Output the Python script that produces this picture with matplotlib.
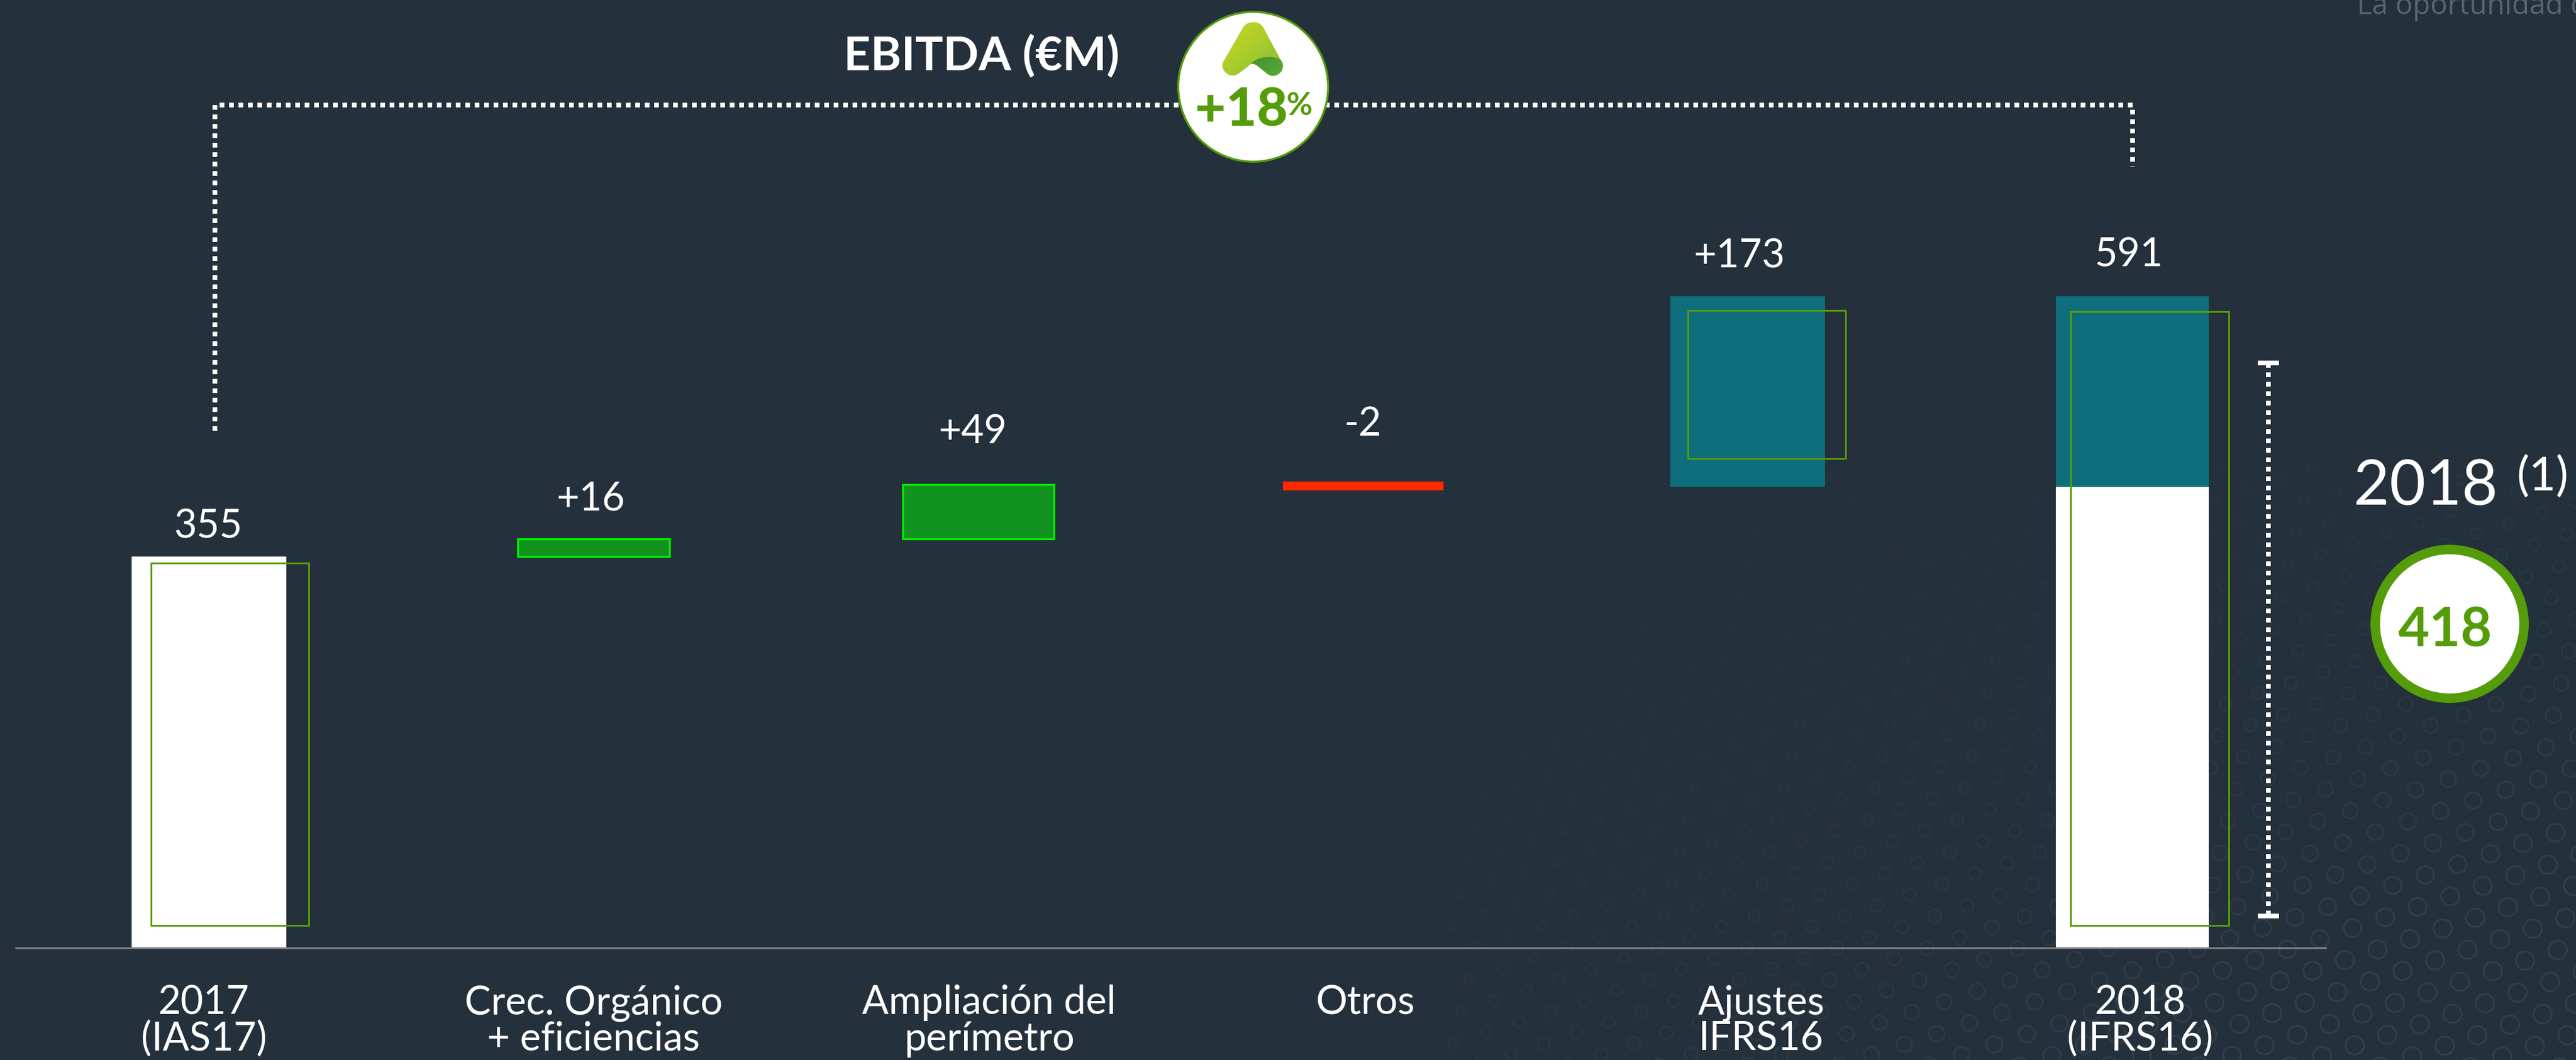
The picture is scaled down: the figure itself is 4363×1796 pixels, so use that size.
import numpy as np
import matplotlib
matplotlib.use("Agg")
import matplotlib.pyplot as plt
from matplotlib.patches import Ellipse, PathPatch
from matplotlib.path import Path
from matplotlib.colors import LinearSegmentedColormap

# ---------- data ----------
categories = ["2017\n(IAS17)", "Crec. Orgánico\n+ eficiencias", "Ampliación del\nperímetro",
              "Otros", "Ajustes\nIFRS16", "2018\n(IFRS16)"]
value_labels = ["355", "+16", "+49", "-2", "+173", "591"]
bar_positions = [0, 1, 2, 3, 4, 5, 5]
bar_bottoms = [0, 355, 371, 420, 418, 0, 418]
bar_heights = [355, 16, 49, -2, 173, 418, 173]
title = "EBITDA (€M)"
growth_label = "+18"
year_label = "2018"
note_label = "(1)"
ifrs_free_value = "418"
corner_text = "La oportunidad de C"

# outline series (thin green frames)
outline_positions = [0.0545, 4.05, 5.045]
outline_low = [20.3, 444, 20.3]
outline_high = [349, 578, 577]

# ---------- styles / layout ----------
W, H = 4363, 1796
BG = "#24303B"
WHITE = "#FFFFFF"
TEAL = "#0E6E7B"
GFILL = "#12921E"
GEDGE = "#00F000"
RED = "#FF2A00"
OLIVE = "#559C0A"
bar_widths = [0.402, 0.395, 0.393, 0.4005, 0.403, 0.398, 0.398]
bar_faces = [WHITE, GFILL, GFILL, RED, TEAL, WHITE, TEAL]
bar_edges = ["none", GEDGE, GEDGE, RED, "none", "none", "none"]
bar_lws = [0, 2.4, 2.4, 8, 0, 0, 0]
label_tick_x = [-0.0138, 1.0, 2.028, 3.007, 4.035, 5.021]
label_x = [-0.002, 0.992, 1.986, 3.0, 3.978, 4.99]
label_gap_px = [31, 48, 70, 83, 49, 51]
label_tops = [355, 371, 420, 420, 591, 591]
PX_PER_UNIT = 1.868
BASE_PX = 1606
STEP = 651.5
X0 = 354
FS_LABEL = 48

plt.rcParams["font.family"] = ["Lato", "DejaVu Sans"]
fig = plt.figure(figsize=(W / 100, H / 100), dpi=100, facecolor=BG)


def px_line(px):
    return px * 72 / 100


# decorative pixel-space overlay behind the chart: faint ring texture
bg = fig.add_axes([0, 0, 1, 1], zorder=0)
bg.set_xlim(0, W)
bg.set_ylim(H, 0)
bg.axis("off")
bg.set_facecolor(BG)
ii, jj = np.meshgrid(np.arange(-50, 60), np.arange(-50, 60))
ang = np.deg2rad(-18)
sp = 58
lx = 3900 + sp * (ii + 0.5 * (jj % 2)) * np.cos(ang) - sp * 0.82 * jj * np.sin(ang)
ly = 1500 + sp * (ii + 0.5 * (jj % 2)) * np.sin(ang) + sp * 0.82 * jj * np.cos(ang)
mask = (lx > 2450) & (lx < W + 30) & (ly > 780) & (ly < H + 30)
lx, ly = lx[mask], ly[mask]
u = np.clip((lx - 2450) / 1750 * 0.55 + (ly - 800) / 800 * 0.5, 0, 1)
diam = 5 + 26 * u ** 1.3
cols = np.zeros((lx.size, 4))
cols[:, :3] = matplotlib.colors.to_rgb("#3A4A56")
cols[:, 3] = np.clip(u ** 2 * 0.55 + 0.03, 0, 0.6)
bg.scatter(lx, ly, s=(diam * 0.72) ** 2, facecolors="none", edgecolors=cols, linewidths=px_line(3.2))

# ---------- main chart ----------
ax = fig.add_axes([0, (H - BASE_PX) / H, 1, BASE_PX / H], zorder=1)
ax.patch.set_alpha(0)
ax.set_xlim(-X0 / STEP, (W - X0) / STEP)
ax.set_ylim(0, BASE_PX / PX_PER_UNIT)
ax.bar(bar_positions, bar_heights, width=bar_widths, bottom=bar_bottoms, color=bar_faces,
       edgecolor=bar_edges, linewidth=bar_lws, zorder=2)
ax.bar(outline_positions, np.subtract(outline_high, outline_low), width=0.411, bottom=outline_low,
       fill=False, edgecolor=OLIVE, linewidth=px_line(3), zorder=3)

for s in ("top", "left", "right"):
    ax.spines[s].set_visible(False)
ax.spines["bottom"].set_color("#808080")
ax.spines["bottom"].set_linewidth(px_line(3))
ax.spines["bottom"].set_bounds((27 - X0) / STEP, (3939 - X0) / STEP)
ax.spines["bottom"].set_zorder(4)
ax.set_yticks([])
ax.set_xticks(label_tick_x, categories)
ax.tick_params(axis="x", length=0, pad=45, labelsize=FS_LABEL, labelcolor=WHITE)
for t in ax.get_xticklabels():
    t.set_linespacing(0.98)

for x, top, gap, lab in zip(label_x, label_tops, label_gap_px, value_labels):
    ax.annotate(lab, (x, top), xytext=(0, gap * 0.72), textcoords="offset points",
                ha="center", va="baseline", color=WHITE, fontsize=FS_LABEL)

# ---------- annotations in pixel space ----------
ov = fig.add_axes([0, 0, 1, 1], zorder=2)
ov.patch.set_alpha(0)
ov.set_xlim(0, W)
ov.set_ylim(H, 0)
ov.axis("off")

dot = dict(color=WHITE, lw=px_line(8), dashes=(1, 1), solid_capstyle="butt", dash_capstyle="butt")
ov.plot([364, 364, 3612, 3612], [730, 178, 178, 283], **dot)
ov.plot([3842, 3842], [615, 1552], **dot)
ov.plot([3824, 3860], [615, 615], color=WHITE, lw=px_line(8), solid_capstyle="butt")
ov.plot([3824, 3860], [1552, 1552], color=WHITE, lw=px_line(8), solid_capstyle="butt")

ov.text(1662, 120, title, color=WHITE, fontsize=57, fontweight="bold", ha="center", va="baseline")

# growth badge
ov.add_patch(Ellipse((2122.5, 147), 254, 254, fc=WHITE, ec=OLIVE, lw=px_line(3.5), zorder=5))
ov.text(2024, 213, growth_label, color=OLIVE, fontsize=65, fontweight="black", ha="left", va="baseline", zorder=6)
ov.text(2179, 195, "%", color=OLIVE, fontsize=39, fontweight="bold", ha="left", va="baseline", zorder=6)


# logo (zoom coordinates -> pixels)
def zp(pts):
    return [(1800 + x / 2.613, y / 3) for x, y in pts]


logo_pts = zp([(800, 135), (820, 105), (866, 105), (885, 135), (965, 305), (995, 350), (945, 410), (905, 375),
               (865, 338), (845, 320), (835, 320), (820, 338), (780, 372), (740, 410), (685, 350), (715, 305),
               (800, 135), (800, 135)])
logo_codes = [Path.MOVETO, Path.CURVE4, Path.CURVE4, Path.CURVE4, Path.LINETO, Path.CURVE4, Path.CURVE4, Path.CURVE4,
              Path.LINETO, Path.CURVE4, Path.CURVE4, Path.CURVE4, Path.LINETO, Path.CURVE4, Path.CURVE4, Path.CURVE4,
              Path.LINETO, Path.CLOSEPOLY]
fold_pts = zp([(832, 322), (870, 285), (930, 280), (965, 305), (995, 350), (945, 410), (905, 375),
               (865, 338), (850, 322), (832, 322), (832, 322)])
fold_codes = [Path.MOVETO, Path.CURVE4, Path.CURVE4, Path.CURVE4, Path.CURVE4, Path.CURVE4, Path.CURVE4,
              Path.LINETO, Path.CURVE4, Path.CURVE4, Path.CURVE4]


def gradient(path_pts, codes, colors, z):
    g = np.linspace(0, 1, 200)
    gx, gy = np.meshgrid(g, g)
    grad = (gx + gy) / 2
    cmap = LinearSegmentedColormap.from_list("g", colors)
    im = ov.imshow(grad, extent=(2065, 2178, 135, 35), cmap=cmap, aspect="auto", zorder=z)
    patch = PathPatch(Path(path_pts, codes), fc="none", ec="none", transform=ov.transData)
    ov.add_patch(patch)
    im.set_clip_path(patch)


gradient(logo_pts, logo_codes, ["#D2D71E", "#A8CC2C", "#7DB83A"], 6)
gradient(fold_pts, fold_codes, ["#3A6B28", "#4A8A2C", "#55B03A"], 7)
ov.set_xlim(0, W)
ov.set_ylim(H, 0)

# right-hand summary
ov.text(3986, 855, year_label, color=WHITE, fontsize=76, ha="left", va="baseline")
ov.text(4262, 831, note_label, color=WHITE, fontsize=57, ha="left", va="baseline")
ov.add_patch(Ellipse((4149, 1057), 252, 252, fc=WHITE, ec=OLIVE, lw=px_line(16), zorder=5))
ov.text(4141, 1096, ifrs_free_value, color=OLIVE, fontsize=66, fontweight="bold", ha="center", va="baseline", zorder=6)

ov.text(3992, 24, corner_text, color="#566570", fontsize=35, ha="left", va="baseline",
        family=["Open Sans", "DejaVu Sans"])

fig.savefig("out.png", dpi=100, facecolor=BG)
